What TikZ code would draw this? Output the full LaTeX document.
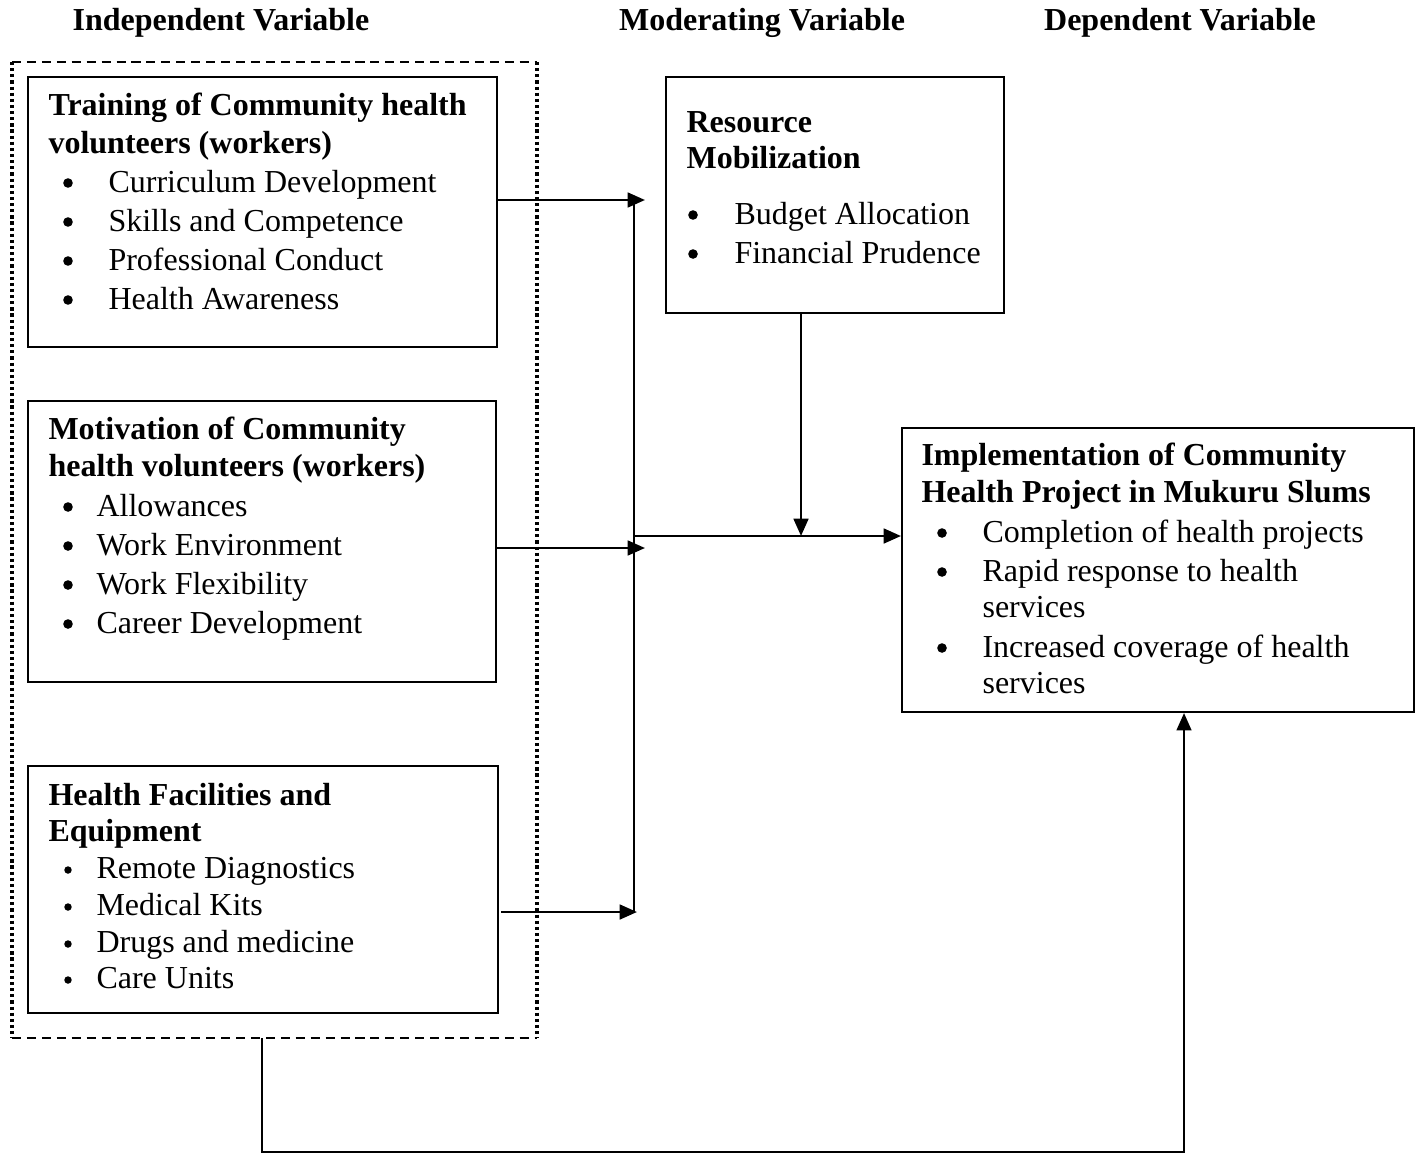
\documentclass[tikz,border=0pt]{standalone}
\usepackage{fontspec}
\setmainfont{Liberation Serif}
\usetikzlibrary{arrows.meta}
\begin{document}
\begin{tikzpicture}[x=0.375pt,y=-0.375pt,
  txt/.style={anchor=mid west,inner sep=0pt,yshift=-1.5pt,font=\fontsize{12}{14}\selectfont},
  hd/.style={txt,font=\fontsize{12}{14}\selectfont\bfseries},
  bul/.style={circle,fill,inner sep=0pt,minimum size=3.6pt},
  sbul/.style={bul,minimum size=2.8pt},
  box/.style={draw,line width=0.75pt,inner sep=0pt,anchor=north west},
  arr/.style={line width=1pt,-{Triangle[length=6.5pt,width=5.5pt]}},
  ln/.style={line width=0.6pt}]
\useasboundingbox (0,0) rectangle (1421,1153);
% column headers
\node[hd,anchor=mid] (hI) at (221,20) {Independent Variable};
\node[hd,anchor=mid] (hM) at (762,20) {Moderating Variable};
\node[hd,anchor=mid] (hD) at (1180,20) {Dependent Variable};
% dotted/dashed group frame
\coordinate (gTL) at (12,62);
\coordinate (gTR) at (537,62);
\coordinate (gBL) at (12,1038);
\coordinate (gBR) at (537,1038);
\draw[line width=0.75pt,dash pattern=on 3.4pt off 2.2pt] (gTL) -- (gTR) (gBL) -- (gBR);
\draw[line width=1.2pt,dash pattern=on 1.2pt off 1.1pt] (gTL) -- (gBL) (gTR) -- (gBR);
% boxes
\node[box,minimum width=469*0.375pt,minimum height=270*0.375pt] (b1) at (27,76) {};
\node[box,minimum width=468*0.375pt,minimum height=281*0.375pt] (b2) at (27,400) {};
\node[box,minimum width=470*0.375pt,minimum height=247*0.375pt] (b3) at (27,765) {};
\node[box,minimum width=338*0.375pt,minimum height=236*0.375pt] (rm) at (665,76) {};
\node[box,minimum width=512*0.375pt,minimum height=284*0.375pt] (im) at (901,427) {};
% box 1 text
\node[hd] (b1h1) at (48,105) {Training of Community health};
\node[hd] (b1h2) at (48,143) {volunteers (workers)};
\node[bul] (b1d1) at (68,183) {};
\node[txt] (b1t1) at (108,182) {Curriculum Development};
\node[bul] (b1d2) at (68,222) {};
\node[txt] (b1t2) at (108,221) {Skills and Competence};
\node[bul] (b1d3) at (68,261) {};
\node[txt] (b1t3) at (108,260) {Professional Conduct};
\node[bul] (b1d4) at (68,300) {};
\node[txt] (b1t4) at (108,299) {Health Awareness};
% box 2 text
\node[hd] (b2h1) at (48,429) {Motivation of Community};
\node[hd] (b2h2) at (48,466) {health volunteers (workers)};
\node[bul] (b2d1) at (68,507) {};
\node[txt] (b2t1) at (96,506) {Allowances};
\node[bul] (b2d2) at (68,546) {};
\node[txt] (b2t2) at (96,545) {Work Environment};
\node[bul] (b2d3) at (68,585) {};
\node[txt] (b2t3) at (96,584) {Work Flexibility};
\node[bul] (b2d4) at (68,624) {};
\node[txt] (b2t4) at (96,623) {Career Development};
% box 3 text
\node[hd] (b3h1) at (48,795) {Health Facilities and};
\node[hd] (b3h2) at (48,831) {Equipment};
\node[sbul] (b3d1) at (68,870) {};
\node[txt] (b3t1) at (96,868) {Remote Diagnostics};
\node[sbul] (b3d2) at (68,907) {};
\node[txt] (b3t2) at (96,905) {Medical Kits};
\node[sbul] (b3d3) at (68,944) {};
\node[txt] (b3t3) at (96,942) {Drugs and medicine};
\node[sbul] (b3d4) at (68,980) {};
\node[txt] (b3t4) at (96,978) {Care Units};
% resource box text
\node[hd] (rmh1) at (686,122) {Resource};
\node[hd] (rmh2) at (686,158) {Mobilization};
\node[bul] (rmd1) at (693,215) {};
\node[txt] (rmt1) at (734,214) {Budget Allocation};
\node[bul] (rmd2) at (693,254) {};
\node[txt] (rmt2) at (734,253) {Financial Prudence};
% implementation box text
\node[hd] (imh1) at (921,455) {Implementation of Community};
\node[hd] (imh2) at (921,492) {Health Project in Mukuru Slums};
\node[bul] (imd1) at (942,533) {};
\node[txt] (imt1) at (982,532) {Completion of health projects};
\node[bul] (imd2) at (942,572) {};
\node[txt] (imt2) at (982,571) {Rapid response to health};
\node[txt] (imt2b) at (982,607) {services};
\node[bul] (imd3) at (942,648) {};
\node[txt] (imt3) at (982,647) {Increased coverage of health};
\node[txt] (imt3b) at (982,683) {services};
% connectors
\coordinate (a1) at (645,200);
\coordinate (a2) at (645,548);
\coordinate (a3) at (637,912);
\coordinate (vT) at (634,200);
\coordinate (vB) at (634,912);
\coordinate (vM) at (634,536);
\coordinate (jn) at (801,536);
\draw[arr] (b1.east |- a1) -- (a1);
\draw[arr] (b2.east |- a2) -- (a2);
\draw[arr] ([xshift=0.75pt]b3.east |- a3) -- (a3);
\draw[ln] (vT) -- (vB);
\draw[arr] (vM) -- (im.west |- vM);
\draw[arr] (rm.south -| jn) -- (jn);
\coordinate (q1) at (262,1152);
\coordinate (q2) at (1184,1152);
\draw[line width=0.85pt,-{Triangle[length=6.5pt,width=5.5pt]}] (gBL -| q1) -- (q1) -- (q2) -- (im.south -| q2);
\end{tikzpicture}
\end{document}
